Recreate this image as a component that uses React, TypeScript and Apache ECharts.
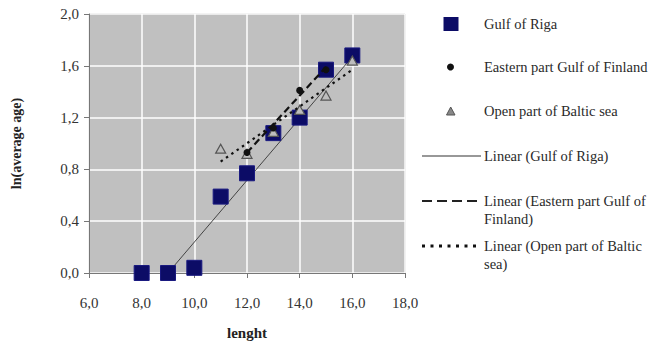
import React, { useEffect, useRef } from "react";
import * as echarts from "echarts";

const rigaX = [8, 9, 10, 11, 12, 13, 14, 15, 16];
const rigaY = [0.0, 0.0, 0.04, 0.59, 0.77, 1.08, 1.2, 1.57, 1.68];
const eastX = [12, 13, 14, 15];
const eastY = [0.93, 1.12, 1.41, 1.57];
const openX = [11, 12, 13, 14, 15, 16];
const openY = [0.96, 0.92, 1.09, 1.26, 1.37, 1.64];
const rigaTrendX = [9.0, 16];
const rigaTrendY = [0.0, 1.67];
const eastTrendX = [12, 15];
const eastTrendY = [0.93, 1.59];
const openTrendX = [11, 16];
const openTrendY = [0.86, 1.57];
const seriesNames = [
  "Gulf of Riga",
  "Eastern part Gulf of Finland",
  "Open part of Baltic sea",
  "Linear (Gulf of Riga)",
  "Linear (Eastern part Gulf of\nFinland)",
  "Linear (Open part of Baltic\nsea)",
];
const xTitle = "lenght";
const yTitle = "ln(average age)";

const zip = (xs: number[], ys: number[]) => xs.map((x, i) => [x, ys[i]]);
const fmt = (v: number) => v.toFixed(1).replace(".", ",");

const SERIF = "Liberation Serif";

export default function App() {
  const ref = useRef<HTMLDivElement>(null);
  useEffect(() => {
    if (!ref.current) return;
    const chart = echarts.init(ref.current, null, { renderer: "svg" });
    const legendX = 484;
    const LH = 18;
    const legendTitle = (text: string, yCenterFirst: number) => ({
      text,
      left: legendX,
      top: yCenterFirst - LH / 2,
      padding: 0,
      textStyle: {
        fontFamily: SERIF,
        fontSize: 14.5,
        fontWeight: "normal",
        color: "#2a2a2a",
        lineHeight: LH,
      },
    });
    chart.setOption({
      animation: false,
      backgroundColor: "#fff",
      title: [
        legendTitle(seriesNames[0], 24),
        legendTitle(seriesNames[1], 67),
        legendTitle(seriesNames[2], 111),
        legendTitle(seriesNames[3], 156),
        legendTitle(seriesNames[4], 201),
        legendTitle(seriesNames[5], 246),
      ],
      grid: {
        left: 89,
        top: 14,
        width: 316,
        height: 259,
        show: true,
        backgroundColor: "#c0c0c0",
        borderColor: "#9a9a9a",
        borderWidth: 1,
      },
      xAxis: {
        type: "value",
        min: 6,
        max: 18,
        interval: 2,
        name: xTitle,
        nameLocation: "middle",
        nameGap: 52,
        nameTextStyle: { fontFamily: SERIF, fontWeight: "bold", fontSize: 15, color: "#222" },
        axisLine: { show: true, lineStyle: { color: "#777" } },
        axisTick: { show: true, length: 5, lineStyle: { color: "#777" } },
        axisLabel: { formatter: fmt, fontFamily: SERIF, fontSize: 15, color: "#333", margin: 22 },
        splitLine: { show: true, lineStyle: { color: "#ffffff", width: 1.5 } },
      },
      yAxis: {
        type: "value",
        min: 0,
        max: 2,
        interval: 0.4,
        name: yTitle,
        nameLocation: "middle",
        nameGap: 66,
        nameTextStyle: { fontFamily: SERIF, fontWeight: "bold", fontSize: 14, color: "#222" },
        axisLine: { show: true, lineStyle: { color: "#777" } },
        axisTick: { show: true, length: 5, lineStyle: { color: "#777" } },
        axisLabel: { formatter: fmt, fontFamily: SERIF, fontSize: 15, color: "#333", margin: 10 },
        splitLine: { show: true, lineStyle: { color: "#ffffff", width: 1.5 } },
      },
      series: [
        {
          name: seriesNames[3],
          type: "line",
          data: zip(rigaTrendX, rigaTrendY),
          symbol: "none",
          lineStyle: { color: "#444", width: 1 },
          z: 3,
        },
        {
          name: seriesNames[0],
          type: "scatter",
          data: zip(rigaX, rigaY),
          symbol: "rect",
          symbolSize: 15,
          itemStyle: { color: "#0c0c66", borderColor: "#1a1a80", borderWidth: 1, opacity: 1 },
          z: 4,
        },
        {
          name: seriesNames[2],
          type: "scatter",
          data: zip(openX, openY),
          symbol: "triangle",
          symbolSize: [10, 9],
          itemStyle: { color: "#bdbdbd", borderColor: "#555", borderWidth: 1.2, opacity: 1 },
          z: 5,
        },
        {
          name: seriesNames[1],
          type: "scatter",
          data: zip(eastX, eastY),
          symbol: "circle",
          symbolSize: 7,
          itemStyle: { color: "#111", opacity: 1 },
          z: 6,
        },
        {
          name: seriesNames[4],
          type: "line",
          data: zip(eastTrendX, eastTrendY),
          symbol: "none",
          lineStyle: { color: "#111", width: 2.2, type: [7, 4] },
          z: 7,
        },
        {
          name: seriesNames[5],
          type: "line",
          data: zip(openTrendX, openTrendY),
          symbol: "none",
          lineStyle: { color: "#111", width: 2.2, type: [2.5, 4] },
          z: 7,
        },
      ],
      graphic: [
        { type: "rect", shape: { x: 443.5, y: 17, width: 15, height: 14 }, style: { fill: "#0c0c66" } },
        { type: "circle", shape: { cx: 450.5, cy: 67, r: 3.5 }, style: { fill: "#111" } },
        {
          type: "polygon",
          shape: { points: [[446.5, 115], [455, 115], [450.7, 107]] },
          style: { fill: "#888", stroke: "#555", lineWidth: 1 },
        },
        { type: "line", shape: { x1: 422, y1: 156, x2: 481, y2: 156 }, style: { stroke: "#333", lineWidth: 1.2 } },
        {
          type: "line",
          shape: { x1: 422, y1: 201, x2: 481, y2: 201 },
          style: { stroke: "#222", lineWidth: 2, lineDash: [10, 5] },
        },
        {
          type: "line",
          shape: { x1: 422, y1: 246, x2: 481, y2: 246 },
          style: { stroke: "#111", lineWidth: 3, lineDash: [3, 5.5] },
        },
      ],
    });
    return () => chart.dispose();
  }, []);
  return <div ref={ref} style={{ width: 655, height: 348, position: "absolute", left: 0, top: 0 }} />;
}
